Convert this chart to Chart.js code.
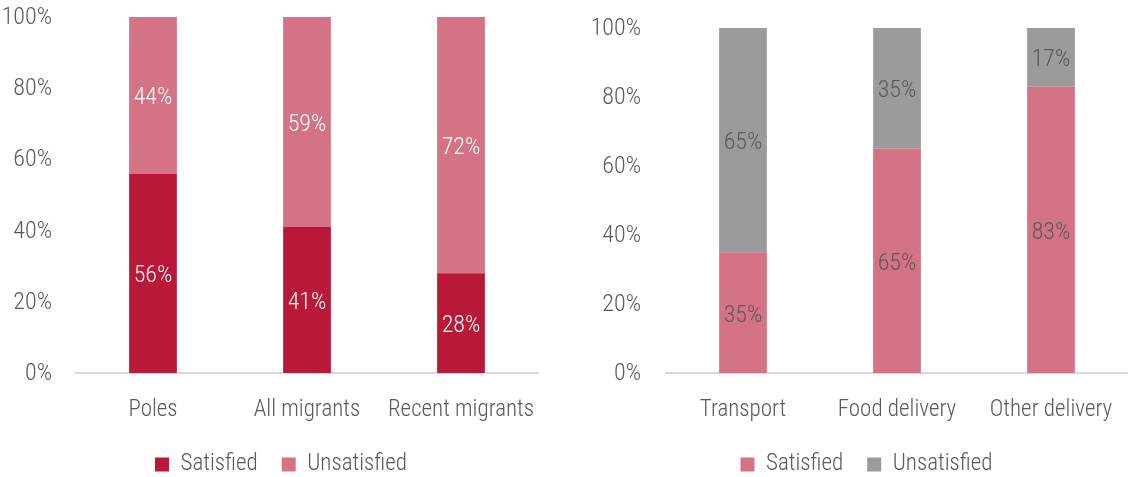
<!DOCTYPE html>
<html>
<head>
<meta charset="utf-8">
<script src="https://cdn.jsdelivr.net/npm/chart.js@4.4.1/dist/chart.umd.min.js"></script>
<style>
  body { margin: 0; background: #fff; overflow: hidden; }
  .wrap { position: absolute; top: 0; width: 564px; height: 477px; overflow: hidden; }
  #left { left: 0; }
  #right { left: 564px; }
</style>
</head>
<body>
<div class="wrap" id="left"><canvas id="leftChart" width="564" height="486"></canvas></div>
<div class="wrap" id="right"><canvas id="rightChart" width="564" height="486"></canvas></div>
<script>
// data
const leftCategories = ['Poles', 'All migrants', 'Recent migrants'];
const leftSatisfied = [56, 41, 28];
const leftUnsatisfied = [44, 59, 72];

const rightCategories = ['Transport', 'Food delivery', 'Other delivery'];
const rightSatisfied = [35, 65, 83];
const rightUnsatisfied = [65, 35, 17];

const seriesNames = ['Satisfied', 'Unsatisfied'];

const RED = '#BA1838';
const PINK = '#D47385';
const GREY = '#9B9B9B';
const TEXT = '#595959';
const FONT = "'Roboto Condensed', Roboto, sans-serif";

// value labels in the middle of every segment
const segLabels = {
  id: 'segLabels',
  afterDatasetsDraw(chart) {
    const ctx = chart.ctx;
    ctx.save();
    ctx.font = '300 24px ' + FONT;
    ctx.textAlign = 'center';
    ctx.textBaseline = 'middle';
    chart.data.datasets.forEach((ds, i) => {
      const meta = chart.getDatasetMeta(i);
      ctx.fillStyle = ds.labelColor;
      meta.data.forEach((bar, j) => {
        const y = (bar.y + bar.base) / 2 + 3;
        ctx.fillText(ds.data[j] + '%', bar.x, y);
      });
    });
    ctx.restore();
  }
};

// the legend in the original sits a little off the plot centre
function legendShift(left) {
  return {
    id: 'legendShift',
    afterLayout(chart) { chart.legend.left = left; }
  };
}

function makeChart(id, labels, sat, unsat, colors, labelColor, top, rightPad, yWidth, yPad, legendLeft) {
  return new Chart(document.getElementById(id), {
    type: 'bar',
    data: {
      labels: labels,
      datasets: [
        { label: seriesNames[0], data: sat, backgroundColor: colors[0], labelColor: labelColor,
          categoryPercentage: 1, barPercentage: 0.31 },
        { label: seriesNames[1], data: unsat, backgroundColor: colors[1], labelColor: labelColor,
          categoryPercentage: 1, barPercentage: 0.31 }
      ]
    },
    options: {
      responsive: false,
      animation: false,
      layout: { padding: { top: top, right: rightPad, bottom: 0, left: 0 } },
      scales: {
        x: {
          stacked: true,
          grid: { display: false, drawTicks: false },
          border: { color: '#D9D9D9', width: 2 },
          ticks: { color: TEXT, font: { family: FONT, size: 23, weight: 300 }, padding: 23, maxRotation: 0, autoSkip: false },
          afterFit(axis) {
            axis.height = 56;
            axis.paddingLeft = 0;
            axis.paddingRight = 0;
          }
        },
        y: {
          stacked: true,
          min: 0, max: 100,
          grid: { display: false, drawTicks: false },
          border: { display: false },
          ticks: { stepSize: 20, color: TEXT, padding: yPad, labelOffset: 1, font: { family: FONT, size: 24, weight: 300 },
                   callback: v => v + '%' },
          afterFit(axis) {
            axis.width = yWidth;
            axis.paddingTop = 0;
            axis.paddingBottom = 0;
          }
        }
      },
      plugins: {
        tooltip: { enabled: false },
        legend: {
          position: 'bottom',
          labels: { boxWidth: 14, boxHeight: 14, padding: 24, color: TEXT,
                    font: { family: FONT, size: 23, weight: 300 } }
        }
      }
    },
    plugins: [segLabels, legendShift(legendLeft)]
  });
}

makeChart('leftChart', leftCategories, leftSatisfied, leftUnsatisfied, [RED, PINK], '#FFFFFF',
  17, 26, 76, 24, 24);
makeChart('rightChart', rightCategories, rightSatisfied, rightUnsatisfied, [PINK, GREY], TEXT,
  28, 0, 102, 25, 41);
</script>
</body>
</html>
